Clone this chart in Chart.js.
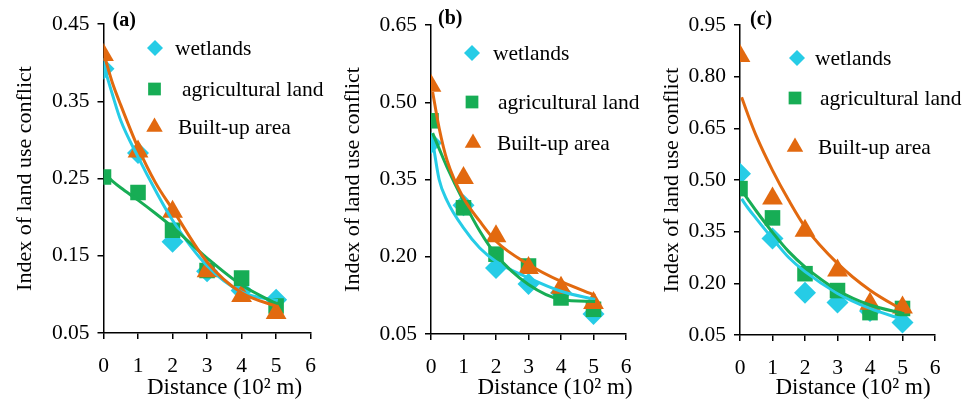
<!DOCTYPE html>
<html>
<head>
<meta charset="utf-8">
<script src="https://cdn.jsdelivr.net/npm/chart.js@4"></script>
<style>
  html, body { margin: 0; padding: 0; background: #fff; }
  body { width: 978px; height: 401px; position: relative; overflow: hidden; }
  canvas { position: absolute; top: 0; }
</style>
</head>
<body>
<canvas id="chartA" width="330" height="401" style="left:0px"></canvas>
<canvas id="chartB" width="320" height="401" style="left:330px"></canvas>
<canvas id="chartC" width="328" height="401" style="left:650px"></canvas>
<script>
// shared
const distance = [0, 1, 2, 3, 4, 5];
const xTicks = [0, 1, 2, 3, 4, 5, 6];
const seriesNames = ['wetlands', 'agricultural land', 'Built-up area'];
const curveX = [0.05, 0.25, 0.5, 1, 1.5, 2, 3, 4, 5.05];

// panel (a)
const yTicksA = [0.05, 0.15, 0.25, 0.35, 0.45];
const wetlandsA = [0.392, 0.283, 0.168, 0.130, 0.105, 0.093];
const agriA = [0.252, 0.232, 0.183, 0.131, 0.121, 0.085];
const builtA = [0.410, 0.285, 0.207, 0.130, 0.098, 0.076];
const wetlandsCurveA = [0.390, 0.360, 0.325, 0.278, 0.235, 0.196, 0.137, 0.103, 0.092];
const agriCurveA = [0.255, 0.247, 0.238, 0.222, 0.205, 0.187, 0.147, 0.112, 0.087];
const builtCurveA = [0.405, 0.375, 0.345, 0.290, 0.245, 0.210, 0.142, 0.102, 0.084];

// panel (b)
const yTicksB = [0.05, 0.20, 0.35, 0.50, 0.65];
const wetlandsB = [0.421, 0.300, 0.178, 0.147, 0.130, 0.089];
const agriB = [0.464, 0.295, 0.205, 0.182, 0.120, 0.098];
const builtB = [0.532, 0.353, 0.240, 0.178, 0.140, 0.110];
const wetlandsCurveB = [0.425, 0.350, 0.308, 0.256, 0.217, 0.191, 0.159, 0.133, 0.117];
const agriCurveB = [0.440, 0.410, 0.373, 0.308, 0.250, 0.204, 0.146, 0.117, 0.113];
const builtCurveB = [0.520, 0.450, 0.386, 0.314, 0.269, 0.230, 0.185, 0.152, 0.125];

// panel (c)
const yTicksC = [0.05, 0.20, 0.35, 0.50, 0.65, 0.80, 0.95];
const wetlandsC = [0.518, 0.330, 0.173, 0.144, 0.120, 0.086];
const agriC = [0.475, 0.390, 0.228, 0.179, 0.115, 0.127];
const builtC = [0.860, 0.446, 0.353, 0.237, 0.141, 0.130];
const wetlandsCurveC = [0.445, 0.418, 0.388, 0.330, 0.275, 0.234, 0.171, 0.127, 0.094];
const agriCurveC = [0.470, 0.443, 0.410, 0.348, 0.292, 0.248, 0.180, 0.137, 0.112];
const builtCurveC = [0.740, 0.688, 0.628, 0.528, 0.441, 0.364, 0.258, 0.180, 0.120];

const colors = ['#26cce6', '#17ad55', '#e2690f'];
const styles = ['rectRot', 'rect', 'triangle'];
const radii = [11, 11, 12];
const legendRadii = [8, 9, 9.5];
const font = 'Liberation Serif';

function pts(xs, ys) {
  return xs.map((x, i) => ({ x: x, y: ys[i] }));
}

// draws the panel letter, the x title and the in-plot legend
const decorPlugin = {
  id: 'decor',
  afterDraw(chart, args, opts) {
    const ctx = chart.ctx;
    const left = chart.chartArea.left;
    ctx.save();
    ctx.fillStyle = '#000';
    ctx.textBaseline = 'middle';
    ctx.font = 'bold 20px "' + font + '"';
    ctx.fillText(opts.label, left + opts.labelDx, opts.labelY);

    ctx.font = '23px "' + font + '"';
    ctx.textAlign = 'center';
    ctx.fillText('Distance (10² m)', left + opts.titleDx, 388);
    ctx.textAlign = 'left';

    ctx.font = '21.5px "' + font + '"';
    opts.items.forEach((it, i) => {
      ctx.fillStyle = colors[i];
      Chart.helpers.drawPoint(ctx, { pointStyle: styles[i], radius: legendRadii[i], rotation: 0, borderWidth: 0 }, left + it.mx, it.y);
      ctx.fillStyle = '#000';
      ctx.fillText(seriesNames[i], left + it.tx, it.y + 1);
    });
    ctx.restore();
  }
};

function makeChart(id, cfg) {
  const markers = [cfg.wet, cfg.agri, cfg.built];
  const curves = [cfg.wetCurve, cfg.agriCurve, cfg.builtCurve];
  const datasets = [];
  markers.forEach((m, i) => {
    datasets.push({
      label: seriesNames[i],
      data: pts(distance, m),
      showLine: false,
      pointStyle: styles[i],
      pointRadius: radii[i],
      pointBackgroundColor: colors[i],
      pointBorderWidth: 0,
      order: 10 - i
    });
  });
  curves.forEach((c, i) => {
    datasets.push({
      label: seriesNames[i] + ' trend',
      data: pts(curveX, c),
      showLine: true,
      borderColor: colors[i],
      borderWidth: 3,
      pointRadius: 0,
      cubicInterpolationMode: 'monotone',
      order: 5 - i
    });
  });

  return new Chart(document.getElementById(id), {
    type: 'scatter',
    data: { datasets: datasets },
    options: {
      responsive: false,
      animation: false,
      events: [],
      layout: { padding: { left: cfg.padLeft, right: cfg.padRight, top: cfg.top, bottom: 0 } },
      plugins: {
        legend: { display: false },
        tooltip: { enabled: false },
        decor: cfg.decor
      },
      scales: {
        x: {
          type: 'linear',
          min: 0,
          max: 6,
          afterBuildTicks: s => { s.ticks = xTicks.map(v => ({ value: v })); },
          afterFit: s => { s.height = 401 - cfg.bottom; },
          border: { display: true, color: '#000', width: 1.5 },
          grid: { drawOnChartArea: false, drawTicks: true, tickLength: 6, tickColor: '#000', lineWidth: 1.5 },
          ticks: { color: '#000', padding: 14, font: { family: font, size: 21.5 } },
          title: { display: false }
        },
        y: {
          min: 0.05,
          max: cfg.yTicks[cfg.yTicks.length - 1],
          afterBuildTicks: s => { s.ticks = cfg.yTicks.map(v => ({ value: v })); },
          afterFit: s => { s.width = cfg.axisX - cfg.padLeft; },
          border: { display: true, color: '#000', width: 1.5 },
          grid: { drawOnChartArea: false, drawTicks: true, tickLength: 6, tickColor: '#000', lineWidth: 1.5 },
          ticks: { color: '#000', padding: 8, font: { family: font, size: 21.5 }, callback: v => v.toFixed(2) },
          title: {
            display: true,
            text: 'Index of land use conflict',
            color: '#000',
            padding: { top: 3, bottom: 0 },
            font: { family: font, size: 22 }
          }
        }
      }
    },
    plugins: [decorPlugin]
  });
}

makeChart('chartA', {
  wet: wetlandsA, agri: agriA, built: builtA,
  wetCurve: wetlandsCurveA, agriCurve: agriCurveA, builtCurve: builtCurveA,
  yTicks: yTicksA, axisX: 103.5, padLeft: 9, padRight: 8, top: 24, bottom: 333,
  decor: {
    label: '(a)', labelDx: 9, labelY: 21, titleDx: 121,
    items: [{ mx: 51.5, tx: 71.5, y: 48 }, { mx: 51, tx: 78.5, y: 89 }, { mx: 51, tx: 74.5, y: 127 }]
  }
});

makeChart('chartB', {
  wet: wetlandsB, agri: agriB, built: builtB,
  wetCurve: wetlandsCurveB, agriCurve: agriCurveB, builtCurve: builtCurveB,
  yTicks: yTicksB, axisX: 101, padLeft: 7, padRight: 24, top: 25, bottom: 334,
  decor: {
    label: '(b)', labelDx: 7, labelY: 19, titleDx: 124,
    items: [{ mx: 41, tx: 62, y: 53 }, { mx: 41, tx: 67, y: 102 }, { mx: 42, tx: 66, y: 143 }]
  }
});

makeChart('chartC', {
  wet: wetlandsC, agri: agriC, built: builtC,
  wetCurve: wetlandsCurveC, agriCurve: agriCurveC, builtCurve: builtCurveC,
  yTicks: yTicksC, axisX: 90, padLeft: 6, padRight: 43, top: 25, bottom: 335,
  decor: {
    label: '(c)', labelDx: 10, labelY: 20, titleDx: 113,
    items: [{ mx: 57, tx: 75, y: 58 }, { mx: 55, tx: 80, y: 98 }, { mx: 55, tx: 78, y: 147 }]
  }
});
</script>
</body>
</html>
